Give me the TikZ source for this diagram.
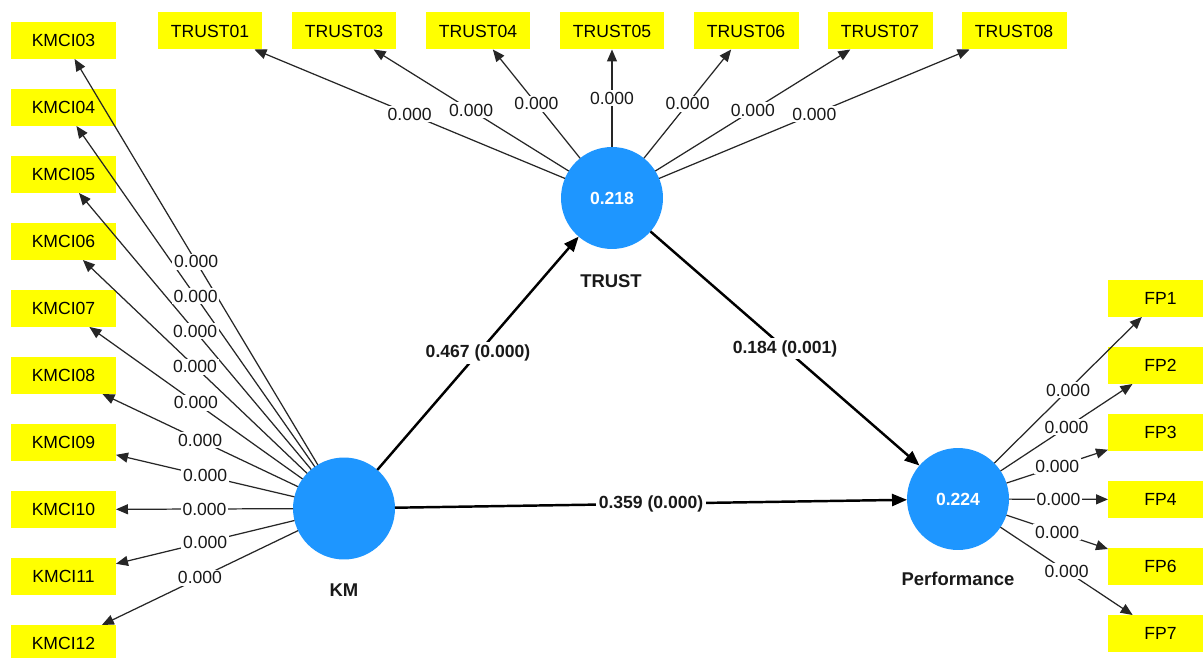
\documentclass[tikz,border=0pt]{standalone}
\usepackage{fontspec}
\setmainfont{Liberation Sans}
\usetikzlibrary{arrows.meta}
\definecolor{plsblue}{RGB}{30,150,255}
\definecolor{plsyellow}{RGB}{255,255,0}
\begin{document}
\begin{tikzpicture}[x=0.02cm,y=-0.02cm,
  ind/.style={fill=plsyellow, minimum width=2.1cm, minimum height=0.74cm, inner sep=0pt, outer sep=0pt, font=\fontsize{10}{12}\selectfont},
  lv/.style={circle, fill=plsblue, minimum size=2.04cm, inner sep=0pt, outer sep=0pt, text=white, font=\fontsize{10}{12}\selectfont\bfseries},
  lvname/.style={font=\fontsize{10.5}{12}\selectfont\bfseries, text=black!90},
  ld/.style={draw=black!85, line width=0.7pt, -{Triangle[length=0.24cm,width=0.2cm]}},
  pth/.style={draw=black, line width=1.4pt, -{Triangle[length=0.3cm,width=0.24cm]}},
  lab/.style={fill=white, inner sep=1pt, font=\fontsize{10}{12}\selectfont, text=black!90},
  plab/.style={fill=white, inner sep=1.5pt, font=\fontsize{10}{12}\selectfont\bfseries, text=black!90}]
\clip (0,0) rectangle (1203,658);
\fill[white] (0,0) rectangle (1203,658);

% indicators
\foreach \n [count=\i from 0] in {03,04,05,06,07,08,09,10,11,12}
  \node[ind] (k\n) at (63.5,{40.5+67*\i}) {KMCI\n};
\foreach \n [count=\i from 0] in {01,03,04,05,06,07,08}
  \node[ind] (t\n) at ({210+134*\i},31) {TRUST\n};
\foreach \n [count=\i from 0] in {1,2,3,4,6,7}
  \node[ind] (f\n) at (1160.5,{298.5+67*\i}) {FP\n};

% latent variables
\node[lv] (km) at (344,508.5) {};
\node[lv] (trust) at (612,198) {0.218};
\node[lv] (perf) at (958,499) {0.224};
\node[lvname] (kmname) at (344,590) {KM};
\node[lvname] (trustname) at (611,281) {TRUST};
\node[lvname] (perfname) at (958,579) {Performance};

% outer model lines
\foreach \n in {03,04,05,06,07,08,09,10,11,12}
  \draw[ld] (km) -- (k\n);
\foreach \n in {01,03,04,05,06,07,08}
  \draw[ld] (trust) -- (t\n);
\foreach \n in {1,2,3,4,6,7}
  \draw[ld] (perf) -- (f\n);

% structural paths
\draw[pth] (km) -- (trust);
\draw[pth] (trust) -- (perf);
\draw[pth] (km) -- (perf);

% labels on top
\foreach \n in {03,04,05,06,07,08,09,10,11,12}
  \path (km) -- (k\n) node[midway,lab] {0.000};
\foreach \n in {01,03,04,05,06,07,08}
  \path (trust) -- (t\n) node[midway,lab] {0.000};
\foreach \n in {1,2,3,4,6,7}
  \path (perf) -- (f\n) node[midway,lab] {0.000};
\path (km) -- (trust) node[midway,plab] {0.467 (0.000)};
\path (trust) -- (perf) node[midway,plab] {0.184 (0.001)};
\path (km) -- (perf) node[midway,plab] {0.359 (0.000)};
\end{tikzpicture}
\end{document}
